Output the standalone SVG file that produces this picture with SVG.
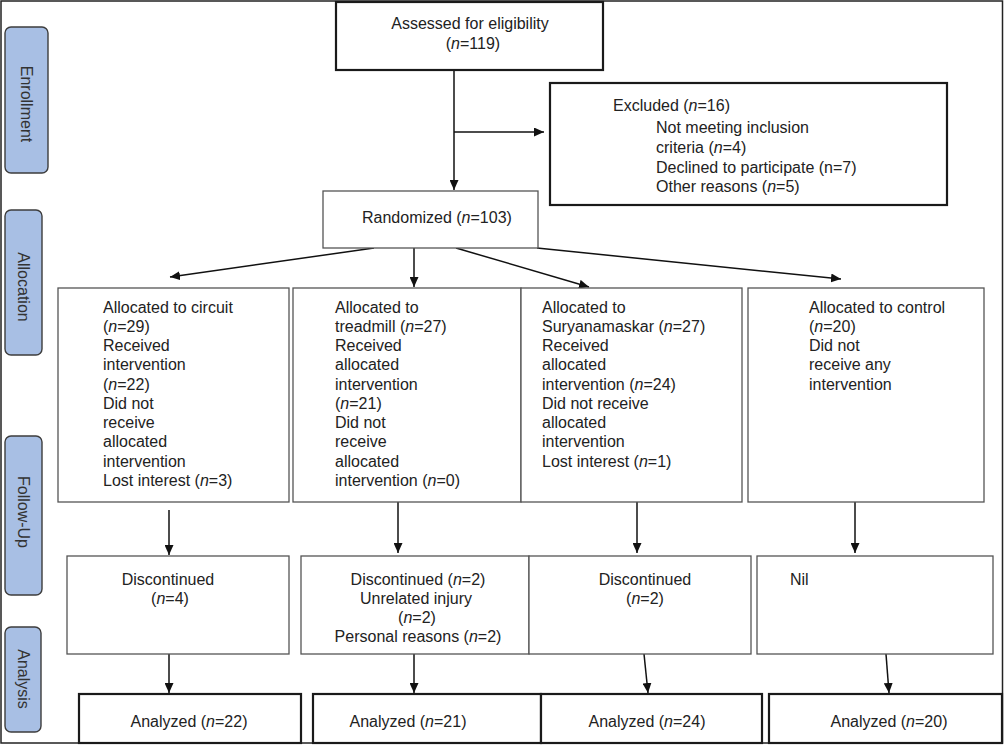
<svg xmlns="http://www.w3.org/2000/svg" width="1006" height="745" viewBox="0 0 1006 745">
<defs>
<marker id="ah" markerUnits="userSpaceOnUse" markerWidth="11" markerHeight="9" refX="10" refY="4.5" orient="auto">
<path d="M0,0 L10,4.5 L0,9 z" fill="#111"/>
</marker>
<style>
text{font-family:"Liberation Sans",Arial,sans-serif;font-size:16px;fill:#222}
.c{text-anchor:middle}
.i{font-style:italic}
.thin{fill:#fff;stroke:#555;stroke-width:1.3}
.thick{fill:#fff;stroke:#1a1a1a;stroke-width:2.2}
.side{fill:#a8bfe4;stroke:#3d3d3d;stroke-width:1.4}
.side-t{text-anchor:middle;dominant-baseline:central;font-size:16px;fill:#333}
.con line{stroke:#111;stroke-width:1.5;marker-end:url(#ah)}
</style>
</defs>
<rect x="0" y="0" width="1006" height="745" fill="#fff"/>
<rect x="1" y="1" width="1001.5" height="742" fill="none" stroke="#222" stroke-width="1.5"/>

<g id="side-enrollment"><rect class="side" x="5" y="27" width="43" height="146" rx="6"/><text class="side-t" transform="translate(26,104) rotate(90)">Enrollment</text></g>
<g id="side-allocation"><rect class="side" x="5" y="210" width="37" height="145" rx="6"/><text class="side-t" transform="translate(23.5,287) rotate(90)">Allocation</text></g>
<g id="side-followup"><rect class="side" x="5" y="436" width="37" height="159" rx="6"/><text class="side-t" transform="translate(23.5,512) rotate(90)">Follow-Up</text></g>
<g id="side-analysis"><rect class="side" x="5" y="627" width="36" height="105" rx="6"/><text class="side-t" transform="translate(23,679) rotate(90)">Analysis</text></g>

<g class="con" id="connectors">
<line x1="454" y1="70" x2="454" y2="190"/>
<line x1="454" y1="132" x2="544" y2="132"/>
<line x1="374" y1="248" x2="170" y2="277"/>
<line x1="414" y1="248" x2="414" y2="287"/>
<line x1="456" y1="248" x2="589" y2="287"/>
<line x1="537" y1="248" x2="841" y2="279"/>
<line x1="169" y1="510" x2="169" y2="555"/>
<line x1="398" y1="502" x2="398" y2="553"/>
<line x1="637" y1="502" x2="637" y2="553"/>
<line x1="855" y1="502" x2="855" y2="553"/>
<line x1="169" y1="654" x2="169" y2="693"/>
<line x1="414" y1="654" x2="414" y2="693"/>
<line x1="644" y1="654" x2="648" y2="693"/>
<line x1="886" y1="654" x2="889" y2="693"/>
</g>

<g id="assessed"><rect class="thick" x="336" y="2" width="267" height="68"/>
<text class="c" x="470" y="28.5">Assessed for eligibility</text>
<text class="c" x="473" y="49">(<tspan class="i">n</tspan>=119)</text></g>

<g id="excluded"><rect class="thick" x="550" y="83" width="397" height="122"/>
<text x="613" y="110.5">Excluded (<tspan class="i">n</tspan>=16)</text>
<text x="656" y="133">Not meeting inclusion</text>
<text x="656" y="153">criteria (<tspan class="i">n</tspan>=4)</text>
<text x="656" y="172.5">Declined to participate (n=7)</text>
<text x="656" y="192">Other reasons (<tspan class="i">n</tspan>=5)</text></g>

<g id="randomized"><rect class="thin" x="323" y="191" width="215" height="57"/>
<text x="362" y="222.5">Randomized (<tspan class="i">n</tspan>=103)</text></g>

<g id="alloc-circuit"><rect class="thin" x="58" y="288" width="231" height="214"/>
<text x="103" y="312.5">Allocated to circuit</text>
<text x="103" y="331.8">(<tspan class="i">n</tspan>=29)</text>
<text x="103" y="351">Received</text>
<text x="103" y="370.3">intervention</text>
<text x="103" y="389.5">(<tspan class="i">n</tspan>=22)</text>
<text x="103" y="408.8">Did not</text>
<text x="103" y="428">receive</text>
<text x="103" y="447.3">allocated</text>
<text x="103" y="466.5">intervention</text>
<text x="103" y="485.8">Lost interest (<tspan class="i">n</tspan>=3)</text></g>

<g id="alloc-treadmill"><rect class="thin" x="293" y="288" width="228" height="214"/>
<text x="335" y="312.5">Allocated to</text>
<text x="335" y="331.8">treadmill (<tspan class="i">n</tspan>=27)</text>
<text x="335" y="351">Received</text>
<text x="335" y="370.3">allocated</text>
<text x="335" y="389.5">intervention</text>
<text x="335" y="408.8">(<tspan class="i">n</tspan>=21)</text>
<text x="335" y="428">Did not</text>
<text x="335" y="447.3">receive</text>
<text x="335" y="466.5">allocated</text>
<text x="335" y="485.8">intervention (<tspan class="i">n</tspan>=0)</text></g>

<g id="alloc-surya"><rect class="thin" x="521" y="288" width="221" height="214"/>
<text x="542" y="312.5">Allocated to</text>
<text x="542" y="331.8">Suryanamaskar (<tspan class="i">n</tspan>=27)</text>
<text x="542" y="351">Received</text>
<text x="542" y="370.3">allocated</text>
<text x="542" y="389.5">intervention (<tspan class="i">n</tspan>=24)</text>
<text x="542" y="408.8">Did not receive</text>
<text x="542" y="428">allocated</text>
<text x="542" y="447.3">intervention</text>
<text x="542" y="466.5">Lost interest (<tspan class="i">n</tspan>=1)</text></g>

<g id="alloc-control"><rect class="thin" x="748" y="288" width="236" height="214"/>
<text x="809" y="312.5">Allocated to control</text>
<text x="809" y="331.8">(<tspan class="i">n</tspan>=20)</text>
<text x="809" y="351">Did not</text>
<text x="809" y="370.3">receive any</text>
<text x="809" y="389.5">intervention</text></g>

<g id="fu-circuit"><rect class="thin" x="67" y="556" width="222" height="98"/>
<text class="c" x="168" y="584.5">Discontinued</text>
<text class="c" x="170" y="603.5">(<tspan class="i">n</tspan>=4)</text></g>

<g id="fu-treadmill"><rect class="thin" x="301" y="556" width="228" height="98"/>
<text class="c" x="418" y="584.5">Discontinued (<tspan class="i">n</tspan>=2)</text>
<text class="c" x="416" y="603.5">Unrelated injury</text>
<text class="c" x="417" y="622.5">(<tspan class="i">n</tspan>=2)</text>
<text class="c" x="418" y="641.5">Personal reasons (<tspan class="i">n</tspan>=2)</text></g>

<g id="fu-surya"><rect class="thin" x="529" y="556" width="222" height="98"/>
<text class="c" x="645" y="584.5">Discontinued</text>
<text class="c" x="645" y="603.5">(<tspan class="i">n</tspan>=2)</text></g>

<g id="fu-control"><rect class="thin" x="757" y="556" width="236" height="98"/>
<text x="790" y="584.5">Nil</text></g>

<g id="an-circuit"><rect class="thick" x="79" y="694" width="222" height="49"/>
<text class="c" x="189" y="726.5">Analyzed (<tspan class="i">n</tspan>=22)</text></g>
<g id="an-treadmill"><rect class="thick" x="313" y="694" width="228" height="49"/>
<text class="c" x="408" y="726.5">Analyzed (<tspan class="i">n</tspan>=21)</text></g>
<g id="an-surya"><rect class="thick" x="541" y="694" width="221" height="49"/>
<text class="c" x="647" y="726.5">Analyzed (<tspan class="i">n</tspan>=24)</text></g>
<g id="an-control"><rect class="thick" x="769" y="694" width="233" height="49"/>
<text class="c" x="889" y="726.5">Analyzed (<tspan class="i">n</tspan>=20)</text></g>
</svg>
